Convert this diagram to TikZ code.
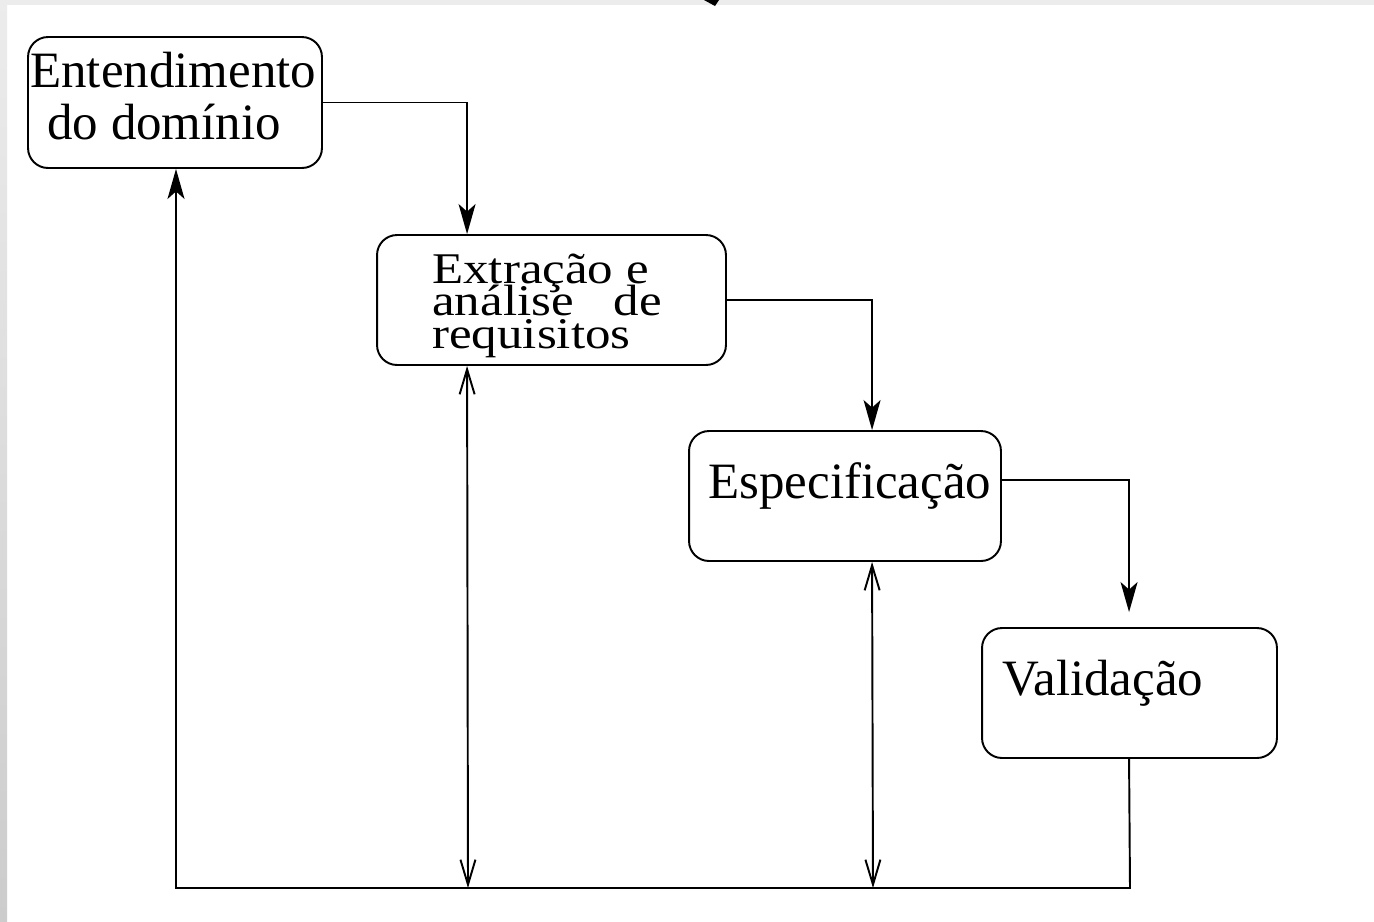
\documentclass[tikz,border=0pt]{standalone}
\usepackage{fontspec}
\setmainfont{Liberation Serif}
\usetikzlibrary{arrows.meta,calc}
\begin{document}
\begin{tikzpicture}[x=0.02cm,y=-0.02cm,
  box/.style={draw,line width=1.1pt,rounded corners=0.4cm,inner sep=0pt,minimum height=2.6cm},
  lbl/.style={anchor=base west,inner sep=0pt,font=\fontsize{29}{32}\selectfont},
  conn/.style={line width=1.1pt},
  fwd/.style={conn,-{Stealth[length=0.6cm,width=0.34cm,inset=0.15cm]}},
  both/.style={conn,{Straight Barb[length=0.5cm,width=0.3cm]}-{Straight Barb[length=0.5cm,width=0.3cm]}}]
\useasboundingbox (0,0) rectangle (1374,921);
\fill[white] (0,0) rectangle (1374,921);
\shade[top color=gray!15,bottom color=gray!40] (0,0) rectangle (7,921);
\fill[gray!15] (7,0) rectangle (1374,5);
\fill[black] (704,0) -- (719,0) -- (715,6) -- cycle;
% boxes
\node[box,minimum width=5.88cm,minimum height=2.62cm] (a) at (175,102.5) {};
\node[box,minimum width=6.98cm] (b) at (551.5,300) {};
\node[box,minimum width=6.24cm] (c) at (845,496) {};
\node[box,minimum width=5.9cm] (d) at (1129.5,693) {};
% texts
\node[lbl] (a1) at (30,87) {Entendimento};
\node[lbl] (a2) at (47,139) {do domínio};
\node[lbl] (b1) at (432,283) {\scalebox{1}[0.86]{Extração e}};
\node[lbl] (b2) at (432,315) {\scalebox{1}[0.86]{análise\hspace{0.8cm}de}};
\node[lbl] (b3) at (432,348) {\scalebox{1}[0.86]{requisitos}};
\node[lbl] (c1) at (708,498) {Especificação};
\node[lbl] (d1) at (1002,695) {Validação};
% coordinates
\coordinate (ab) at ($(b.north west)+(91,0)$);
\coordinate (bc) at ($(c.north west)+(184,0)$);
\coordinate (cd) at ($(d.north west)+(148,-15)$);
\coordinate (dout) at ($(d.south west)+(148,0)$);
\coordinate (bin) at ($(b.south west)+(91,0)$);
\coordinate (cin) at ($(c.south west)+(184,0)$);
\coordinate (br) at (1130,888);
\coordinate (bl) at (176,888);
\coordinate (b0) at (468,888);
\coordinate (c0) at (873,888);
% forward connectors
\draw[fwd] (a.east) -| (ab);
\draw[fwd] (b.east) -| (bc);
\draw[fwd] ($(c.east)+(0,-16)$) -| (cd);
% feedback
\draw[fwd] (dout) -- (br) -- (bl) -- (a.south -| bl);
\draw[both] (b0) -- (bin);
\draw[both] (c0) -- (cin);
\end{tikzpicture}
\end{document}
